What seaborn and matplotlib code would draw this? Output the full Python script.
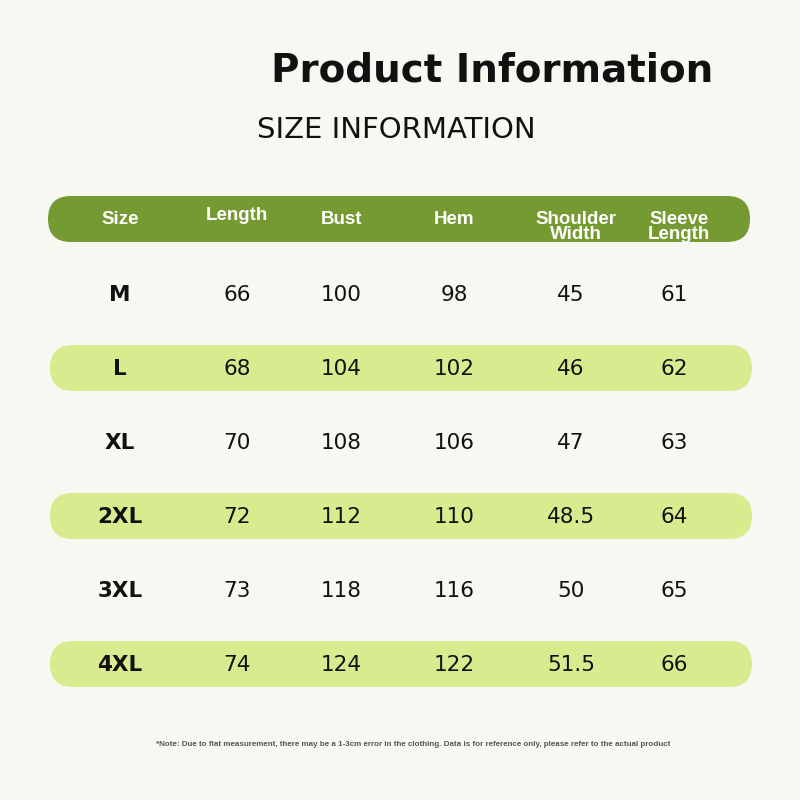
import matplotlib
matplotlib.use("Agg")
import matplotlib.pyplot as plt
import seaborn as sns
from matplotlib.patches import FancyBboxPatch

# ========== DATA ==========
sizes = ["M", "L", "XL", "2XL", "3XL", "4XL"]
length = ["66", "68", "70", "72", "73", "74"]
bust = ["100", "104", "108", "112", "118", "124"]
hem = ["98", "102", "106", "110", "116", "122"]
shoulder = ["45", "46", "47", "48.5", "50", "51.5"]
sleeve = ["61", "62", "63", "64", "65", "66"]
headers = ["Size", "Length", "Bust", "Hem", "Shoulder\nWidth", "Sleeve\nLength"]

# ========== LAYOUT ==========
BG = "#f8f8f2"
DARK_GREEN = "#769a32"
LIGHT_GREEN = "#d9eb8f"
col_x = [120, 237, 341, 454, 571, 674]
row_y0, row_step = 294, 74

sns.set_theme(style="white")
plt.rcParams["font.family"] = ["DejaVu Sans"]

fig = plt.figure(figsize=(8, 8), dpi=100, facecolor=BG)
ax = fig.add_axes([0, 0, 1, 1])
ax.set_xlim(0, 800)
ax.set_ylim(800, 0)
ax.set_facecolor(BG)
ax.axis("off")

ax.text(492, 70, "Product Information", fontsize=28, fontweight="heavy",
        ha="center", va="center", color="#111111")
ax.text(396, 130, "SIZE INFORMATION", fontsize=21, ha="center", va="center",
        color="#111111")

# header band
ax.add_patch(FancyBboxPatch((48, 196), 702, 46,
                            boxstyle="round,pad=0,rounding_size=23",
                            fc=DARK_GREEN, ec="none"))
header_y = [219, 216, 219, 220, 227, 227]
for x, y, h in zip(col_x, header_y, headers):
    ax.text(x if "\n" not in h else x + 5, y, h, fontsize=13.5, fontweight="bold",
            color="white", ha="center", va="center", linespacing=0.85,
            family=["Liberation Sans"])

columns = [sizes, length, bust, hem, shoulder, sleeve]
for i in range(len(sizes)):
    y = row_y0 + i * row_step
    if i % 2 == 1:
        ax.add_patch(FancyBboxPatch((50, y - 23), 702, 46,
                                    boxstyle="round,pad=0,rounding_size=23",
                                    fc=LIGHT_GREEN, ec="none"))
    for x, col in zip(col_x, columns):
        ax.text(x, y + 1, col[i], fontsize=15.5, ha="center", va="center",
                color="#111111",
                fontweight="bold" if col is sizes else "medium")

ax.text(413, 745, "*Note: Due to flat measurement, there may be a 1-3cm error in the clothing. "
        "Data is for reference only, please refer to the actual product",
        fontsize=5.8, fontweight="bold", color="#555555", ha="center", va="center",
        family=["Liberation Sans"])

fig.savefig("out.png", dpi=100, facecolor=BG)
